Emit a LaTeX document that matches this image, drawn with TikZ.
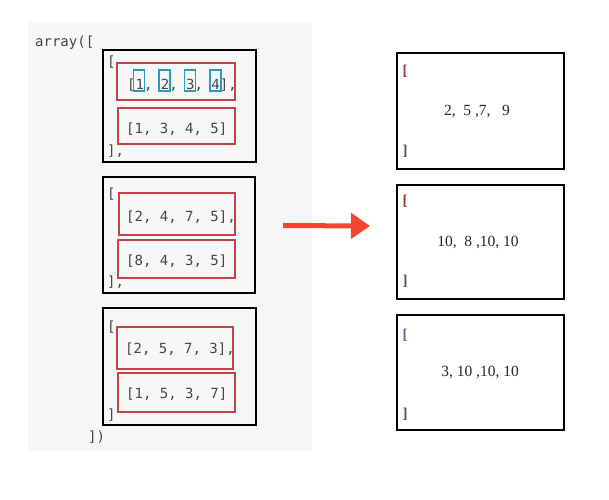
\documentclass[tikz,border=0pt]{standalone}
\usepackage{fontspec}
\usepackage{xcolor}
\usepackage{tikz}
\usetikzlibrary{arrows.meta, positioning, calc}
\newfontfamily\codefont{DejaVu Sans Mono}
\newfontfamily\notefont{Liberation Serif}
\definecolor{panelbg}{HTML}{F7F7F8}
\definecolor{codegray}{HTML}{464646}
\definecolor{rowred}{HTML}{C7414A}
\definecolor{cellcyan}{HTML}{2A9BC2}
\definecolor{arrowred}{HTML}{F2472A}
\definecolor{brackred}{HTML}{9A3A35}
\definecolor{brackblue}{HTML}{4D6E8E}
\definecolor{brackgray}{HTML}{5E5148}

\begin{document}
\begin{tikzpicture}[
    x=1pt, y=-1pt,
    code/.style={font=\codefont\fontsize{14}{14}\selectfont, text=codegray, inner sep=0pt, anchor=base west},
    block/.style={draw=black, line width=2.4pt, inner sep=0pt},
    rowbox/.style={draw=rowred, line width=1.8pt, inner sep=0pt},
    cell/.style={draw=cellcyan, line width=1.6pt, minimum width=11, minimum height=21, inner sep=0pt},
    result/.style={draw=black, line width=1.4pt, minimum width=167, inner sep=0pt},
    note/.style={font=\notefont\fontsize{15.5}{15.5}\selectfont, text=black!85},
    brack/.style={font=\notefont\bfseries\fontsize{15}{15}\selectfont},
]
    \useasboundingbox (0,0) rectangle (609,499);

    % Code panel
    \fill[panelbg] (28,22) rectangle (312,451);
    \node[code] (head) at (35,46) {array([};

    % First block
    \node[block, minimum width=153, minimum height=112] (b1) at (179.5,106) {};
    \node[rowbox, minimum width=118, minimum height=37] (r1a) at (176,81.5) {};
    \node[rowbox, minimum width=117, minimum height=36] (r1b) at (176.5,126) {};
    \node[code] (o1) at (107,66) {[};
    \node[code] (t1a) at (127,89) {[1, 2, 3, 4],};
    \node[code] (t1b) at (126,133) {[1, 3, 4, 5]};
    \node[code] (e1) at (107,155) {],};
    \foreach \i/\cx in {1/139, 2/164.5, 3/190, 4/215.5}
        \node[cell] (c\i) at (\cx,80.5) {};

    % Second block
    \node[block, minimum width=152, minimum height=116] (b2) at (179,235) {};
    \node[rowbox, minimum width=116, minimum height=42] (r2a) at (177,214) {};
    \node[rowbox, minimum width=117, minimum height=38] (r2b) at (176.5,259) {};
    \node[code] (o2) at (107,198) {[};
    \node[code] (t2a) at (126,221) {[2, 4, 7, 5],};
    \node[code] (t2b) at (126,265) {[8, 4, 3, 5]};
    \node[code] (e2) at (107,286) {],};

    % Third block
    \node[block, minimum width=153, minimum height=117] (b3) at (179.5,366.5) {};
    \node[rowbox, minimum width=116, minimum height=42] (r3a) at (175,348) {};
    \node[rowbox, minimum width=117, minimum height=39] (r3b) at (176.5,392.5) {};
    \node[code] (o3) at (107,331) {[};
    \node[code] (t3a) at (125,353) {[2, 5, 7, 3],};
    \node[code] (t3b) at (126,398) {[1, 5, 3, 7]};
    \node[code] (e3) at (107,419) {]};
    \node[code] (tail) at (88,441) {])};

    % Arrow
    \coordinate (from) at (283,225.5);
    \coordinate (to) at (370,226);
    \draw[-{Triangle[length=19pt, width=25pt]}, line width=5pt, arrowred] (from) -- (to);

    % Results
    \node[result, minimum height=116] (s1) at (480.5,111) {};
    \node[brack, text=brackred] at (405,71) {[};
    \node[note] (v1) at (477,112) {2,\ \ 5 ,7,\ \ \ 9};
    \node[brack, text=brackgray] at (405,151) {]};

    \node[result, minimum height=114] (s2) at (480.5,242) {};
    \node[brack, text=brackred] at (405,201) {[};
    \node[note] (v2) at (478,243) {10,\ \ 8 ,10, 10};
    \node[brack, text=brackgray] at (405,281) {]};

    \node[result, minimum height=115] (s3) at (480.5,372.5) {};
    \node[brack, text=brackblue] at (405,335) {[};
    \node[note] (v3) at (480,373) {3, 10 ,10, 10};
    \node[brack, text=brackgray] at (405,414) {]};
\end{tikzpicture}
\end{document}
